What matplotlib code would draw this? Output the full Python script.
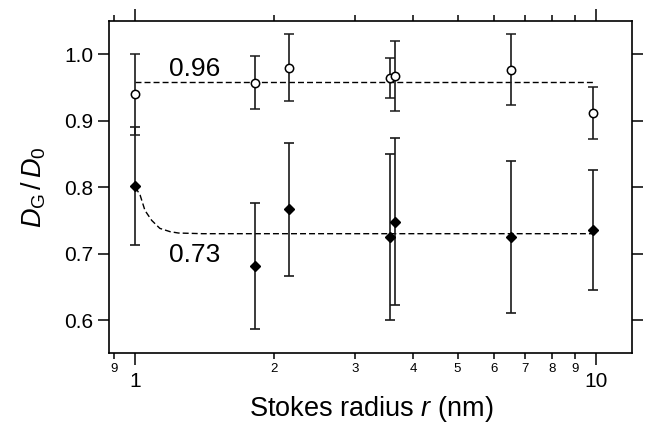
import matplotlib
matplotlib.use("Agg")
import matplotlib.pyplot as plt
from matplotlib.ticker import FixedLocator, FixedFormatter, NullLocator

plt.rcParams['font.family'] = ['Liberation Sans', 'DejaVu Sans']
plt.rcParams['mathtext.fontset'] = 'custom'
plt.rcParams['mathtext.rm'] = 'Liberation Sans'
plt.rcParams['mathtext.it'] = 'Liberation Sans:italic'

# Stokes radius (nm) of each probe
r_nm = [1.0, 1.82, 2.15, 3.56, 3.65, 6.52, 9.85]

# open circles
dg_open = [0.940, 0.957, 0.980, 0.964, 0.967, 0.977, 0.911]
err_open = [0.061, 0.040, 0.050, 0.030, 0.053, 0.053, 0.039]

# filled diamonds
dg_fill = [0.802, 0.681, 0.767, 0.7245, 0.748, 0.725, 0.736]
err_fill = [0.089, 0.095, 0.100, 0.125, 0.126, 0.115, 0.090]

# fitted lines
fit_hi_r = [1.0, 9.85]
fit_hi_y = [0.958, 0.958]
fit_lo_r = [1.0, 1.024, 1.049, 1.085, 1.13, 1.19, 1.24, 1.4, 9.85]
fit_lo_y = [0.800, 0.788, 0.765, 0.750, 0.738, 0.733, 0.731, 0.730, 0.730]

major_x = [1, 10]
major_lbl = ["1", "10"]
minor_x = [0.9, 2, 3, 4, 5, 6, 7, 8, 9]
minor_lbl = ["9", "2", "3", "4", "5", "6", "7", "8", "9"]
y_ticks = [0.6, 0.7, 0.8, 0.9, 1.0]

fig = plt.figure(figsize=(6.45, 4.33), dpi=100)
ax = fig.add_axes([0.1695, 0.184, 0.8108, 0.7675])

ax.plot(fit_hi_r, fit_hi_y, color='black', lw=1.0, dashes=(4.3, 2.2))
ax.plot(fit_lo_r, fit_lo_y, color='black', lw=1.0, dashes=(4.3, 2.2))

ax.errorbar(r_nm, dg_open, yerr=err_open, fmt='o', mfc='white', mec='black',
            ms=6, mew=1.1, ecolor='#1a1a1a', elinewidth=1.2, capsize=3.5, capthick=1.2)
ax.errorbar(r_nm, dg_fill, yerr=err_fill, fmt='D', mfc='black', mec='black',
            ms=5.5, ecolor='#1a1a1a', elinewidth=1.2, capsize=3.5, capthick=1.2)

ax.text(1.347, 0.9785, "0.96", fontsize=19, ha='center', va='center')
ax.text(1.347, 0.698, "0.73", fontsize=19, ha='center', va='center')

ax.set_xscale('log')
ax.set_xlim(0.878, 11.97)
ax.set_ylim(0.55, 1.05)

ax.xaxis.set_major_locator(FixedLocator(major_x))
ax.xaxis.set_major_formatter(FixedFormatter(major_lbl))
ax.xaxis.set_minor_locator(FixedLocator(minor_x))
ax.xaxis.set_minor_formatter(FixedFormatter(minor_lbl))
ax.yaxis.set_major_locator(FixedLocator(y_ticks))
ax.yaxis.set_minor_locator(NullLocator())
ax.set_yticklabels(["0.6", "0.7", "0.8", "0.9", "1.0"])

ax.tick_params(axis='x', which='major', direction='out', length=8.5, width=1.1,
               labelsize=15, pad=5, top=True)
ax.tick_params(axis='x', which='minor', direction='out', length=4.3, width=1.1,
               labelsize=9.5, pad=3, top=True)
ax.tick_params(axis='y', which='major', direction='out', length=8, width=1.1,
               labelsize=15, pad=3.5, right=True)

for s in ax.spines.values():
    s.set_linewidth(1.2)

ax.set_xlabel("Stokes radius $\\mathit{r}$ (nm)", fontsize=19.5, labelpad=2)
ax.set_ylabel("$\\mathit{D}_{\\mathrm{G}}\\,/\\,\\mathit{D}_{\\mathit{0}}$", fontsize=19.5, labelpad=12)

fig.savefig("out.png", dpi=100)
